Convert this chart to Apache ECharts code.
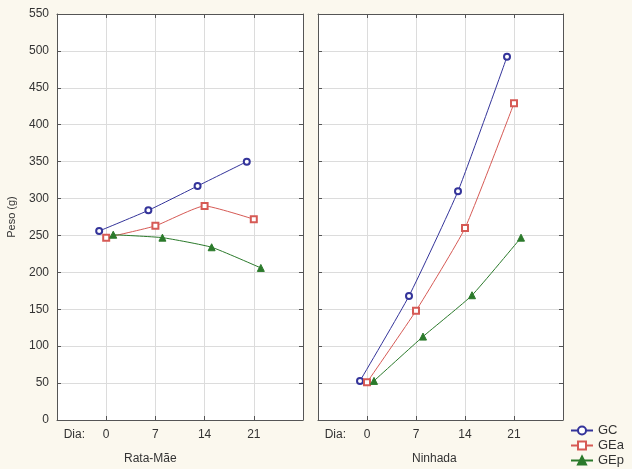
<!DOCTYPE html>
<html>
<head>
<meta charset="utf-8">
<script src="https://cdn.jsdelivr.net/npm/echarts@6/dist/echarts.min.js"></script>
<style>
html, body { margin: 0; padding: 0; background: #fbf8ee; }
#chart { width: 632px; height: 469px; }
</style>
</head>
<body>
<div id="chart"></div>
<script>
// dias (deslocados por grupo, como no original)
var daysGC = [-1, 6, 13, 20];
var daysGEa = [0, 7, 14, 21];
var daysGEp = [1, 8, 15, 22];
var dayTicks = [0, 7, 14, 21];

// Rata-Mãe
var rataGC = [256, 284, 317, 350];
var rataGEa = [247, 263, 290, 272];
var rataGEp = [251, 247, 234, 206];

// Ninhada
var ninhGC = [53, 168, 310, 492];
var ninhGEa = [51, 148, 260, 429];
var ninhGEp = [53, 113, 169, 247];

var panelNames = ['Rata-Mãe', 'Ninhada'];
var groupNames = ['GC', 'GEa', 'GEp'];

function pairs(xs, ys) {
    var d = [];
    for (var i = 0; i < xs.length; i++) d.push([xs[i], ys[i]]);
    return d;
}

var colors = ['#34349a', '#d65a55', '#2b7a2b'];
var symbols = ['emptyCircle', 'emptyRect', 'triangle'];
var sizes = [6, 6, 7];

var fontFam = '"Liberation Sans", Arial, sans-serif';
var txt = { color: '#333', fontSize: 12, fontFamily: fontFam };
var frame = { show: true, onZero: false, lineStyle: { color: '#555' } };
var tick = { show: true, inside: true, length: 4, lineStyle: { color: '#555' } };

function xAxisBottom(idx) {
    return {
        type: 'value', gridIndex: idx, min: -7, max: 28, interval: 7,
        axisLine: frame, axisTick: tick,
        axisLabel: Object.assign({
            margin: 9,
            alignMinLabel: 'left',
            formatter: function (v) {
                if (v === -7) return '  Dia:';
                if (dayTicks.indexOf(v) >= 0) return String(v);
                return '';
            }
        }, txt),
        splitLine: { show: true, lineStyle: { color: '#dcdcdc' } }
    };
}
function xAxisTop(idx) {
    return {
        type: 'value', gridIndex: idx, position: 'top', min: -7, max: 28, interval: 7,
        axisLine: frame, axisTick: tick,
        axisLabel: { show: false }, splitLine: { show: false }
    };
}
function yAxisLeft(idx, labels) {
    return {
        type: 'value', gridIndex: idx, min: 0, max: 550, interval: 50,
        name: labels ? 'Peso (g)' : '',
        nameLocation: 'middle', nameGap: 40, nameRotate: 90,
        nameTextStyle: { color: '#333', fontSize: 11, fontFamily: fontFam },
        axisLine: frame, axisTick: tick,
        axisLabel: Object.assign({ show: labels, margin: 8 }, txt),
        splitLine: { show: true, lineStyle: { color: '#dcdcdc' } }
    };
}
function yAxisRight(idx) {
    return {
        type: 'value', gridIndex: idx, position: 'right', min: 0, max: 550, interval: 50,
        axisLine: frame, axisTick: tick,
        axisLabel: { show: false }, splitLine: { show: false }
    };
}

function line(name, k, xi, yi, data) {
    return {
        name: name, type: 'line', xAxisIndex: xi, yAxisIndex: yi,
        data: data, smooth: 0.15,
        symbol: symbols[k], symbolSize: sizes[k], showAllSymbol: true,
        lineStyle: { color: colors[k], width: 1 },
        itemStyle: { color: colors[k], borderColor: colors[k], borderWidth: 1 },
        animation: false
    };
}

function legendItem(k, top) {
    return {
        orient: 'vertical', left: 570, top: top,
        itemWidth: 22, itemHeight: 10, itemGap: 0, padding: 0,
        textStyle: { color: '#333', fontSize: 13, fontFamily: fontFam },
        data: [groupNames[k]]
    };
}

var myChart = echarts.init(document.getElementById('chart'));
var option = {
    backgroundColor: '#fbf8ee',
    animation: false,
    grid: [
        { left: 57, right: 329, top: 14, bottom: 49, show: true, backgroundColor: '#fff', borderWidth: 0 },
        { left: 318, right: 69, top: 14, bottom: 49, show: true, backgroundColor: '#fff', borderWidth: 0 }
    ],
    xAxis: [xAxisBottom(0), xAxisBottom(1), xAxisTop(0), xAxisTop(1)],
    yAxis: [yAxisLeft(0, true), yAxisLeft(1, false), yAxisRight(0), yAxisRight(1)],
    legend: [legendItem(0, 424), legendItem(1, 439), legendItem(2, 454)],
    graphic: [
        { type: 'text', left: 124, top: 453, style: { text: panelNames[0], fill: '#333', font: '12px ' + fontFam } },
        { type: 'text', left: 412, top: 453, style: { text: panelNames[1], fill: '#333', font: '12px ' + fontFam } }
    ],
    series: [
        line('GC', 0, 0, 0, pairs(daysGC, rataGC)),
        line('GEa', 1, 0, 0, pairs(daysGEa, rataGEa)),
        line('GEp', 2, 0, 0, pairs(daysGEp, rataGEp)),
        line('GC', 0, 1, 1, pairs(daysGC, ninhGC)),
        line('GEa', 1, 1, 1, pairs(daysGEa, ninhGEa)),
        line('GEp', 2, 1, 1, pairs(daysGEp, ninhGEp))
    ]
};
myChart.setOption(option);
</script>
</body>
</html>
